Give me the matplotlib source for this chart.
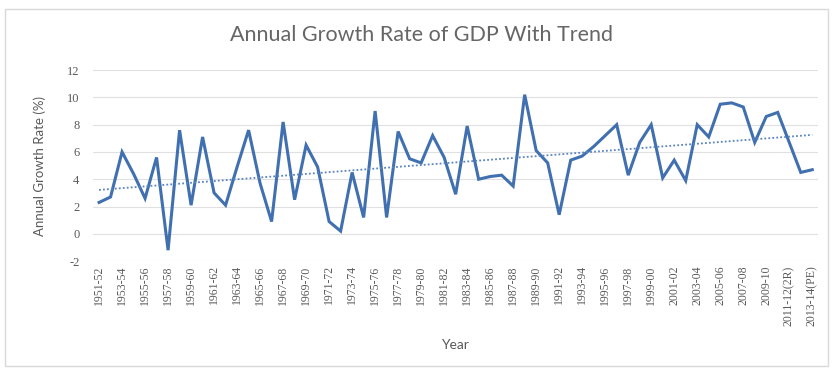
import numpy as np
import matplotlib.pyplot as plt
from matplotlib.patches import Rectangle

plt.rcParams['axes.unicode_minus'] = False

# --- data ---
years = [f"{y}-{str(y + 1)[-2:]}" for y in range(1951, 2014)]
years[60] = "2011-12(2R)"
years[62] = "2013-14(PE)"
growth = [2.3, 2.7, 6.0, 4.4, 2.6, 5.6, -1.2, 7.6, 2.1, 7.1,
          3.0, 2.1, 4.9, 7.6, 3.7, 0.9, 8.2, 2.5, 6.5, 4.9,
          0.9, 0.2, 4.5, 1.2, 9.0, 1.2, 7.5, 5.5, 5.2, 7.2,
          5.6, 2.9, 7.9, 4.0, 4.2, 4.3, 3.5, 10.2, 6.1, 5.2,
          1.4, 5.4, 5.7, 6.4, 7.2, 8.0, 4.3, 6.7, 8.0, 4.1,
          5.4, 3.9, 8.0, 7.1, 9.5, 9.6, 9.3, 6.7, 8.6, 8.9,
          6.7, 4.5, 4.7]

blue = '#4170b0'
grey = '#595959'

x = np.arange(len(growth))
slope, icpt = np.polyfit(x, growth, 1)

fig = plt.figure(figsize=(8.33, 3.73), dpi=100)
ax = fig.add_axes([0.112, 0.300, 0.870, 0.512])

ax.plot(x, growth, color=blue, lw=2.2, solid_joinstyle='miter')
ax.plot(x, slope * x + icpt, color='#5a84c0', lw=1.3, ls=(0, (1, 1.2)))

ax.set_xlim(-0.5, len(growth) - 0.5)
ax.set_ylim(-2, 12)
ax.set_yticks(range(-2, 13, 2))
ax.set_xticks(x[::2])
ax.set_xticklabels(years[::2], rotation=90, family='Liberation Serif',
                   fontsize=8.5, color=grey)
for lab in ax.get_yticklabels():
    lab.set_family('Liberation Serif')
ax.tick_params(axis='y', labelsize=9, colors=grey, length=0, pad=10)
ax.tick_params(axis='x', length=0, pad=3)
ax.grid(axis='y', color='#e0e0e0', lw=0.8)
ax.set_axisbelow(True)
for s in ax.spines.values():
    s.set_visible(False)

fig.text(0.506, 0.905, 'Annual Growth Rate of GDP With Trend', ha='center', va='center',
         fontsize=15.5, color='#666666', family='Lato')
fig.text(0.048, 0.556, 'Annual Growth Rate (%)', ha='center', va='center', rotation=90,
         fontsize=9.5, color=grey, family='Lato')
fig.text(0.546, 0.075, 'Year', ha='center', va='center', fontsize=10, color=grey, family='Lato')

fig.add_artist(Rectangle((0.006, 0.02), 0.988, 0.955, transform=fig.transFigure,
                         fill=False, ec='#d9d9d9', lw=1))

fig.savefig('out.png', dpi=100)
